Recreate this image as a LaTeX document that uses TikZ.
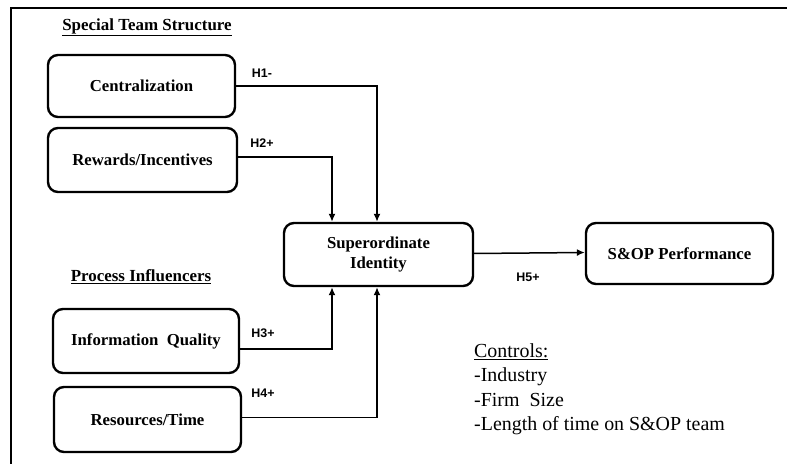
\documentclass[tikz,border=0pt]{standalone}
\usepackage{fontspec}
\setmainfont{Liberation Serif}
\newfontfamily\hsans{Liberation Sans}
\usetikzlibrary{arrows.meta}
\tikzset{
  construct/.style={draw, line width=2.4bp, rounded corners=10bp, align=center,
    font=\fontsize{16.8}{21}\selectfont\bfseries, inner sep=0pt},
  link/.style={line width=1.5bp, -{Latex[length=8bp,width=7bp]}},
  hyp/.style={font=\hsans\bfseries\fontsize{12.5}{14}\selectfont, inner sep=0pt},
  heading/.style={font=\fontsize{17}{20}\selectfont\bfseries, inner sep=0pt},
  ctrl/.style={font=\fontsize{20}{24}\selectfont, anchor=base west, inner sep=0pt},
}
\begin{document}
\begin{tikzpicture}[x=1bp, y=-1bp]
\useasboundingbox (0,0) rectangle (787,464);
% frame
\draw[line width=2bp] (11,464) -- (11,8) -- (787,8);

% group headings
\node[heading] (hstruct) at (147,27) {\underline{Special Team Structure}};
\node[heading] (hproc) at (141,277) {\underline{Process Influencers}};

% constructs
\node[construct, minimum width=187bp, minimum height=62bp] (cent) at (141.5,86) {Centralization};
\node[construct, minimum width=189bp, minimum height=64bp] (rew) at (142.5,160) {Rewards/Incentives};
\node[construct, minimum width=186bp, minimum height=64bp] (info) at (146,341) {Information\ \ Quality};
\node[construct, minimum width=187bp, minimum height=65bp] (res) at (147.5,419.5) {Resources/Time};
\node[construct, minimum width=189bp, minimum height=63bp] (sup) at (378.5,254.5) {Superordinate\\Identity};
\node[construct, minimum width=187bp, minimum height=61bp] (sop) at (679.5,253.5) {S\&OP Performance};

% columns where the paths enter the central construct
\coordinate (colA) at (332,0);
\coordinate (colB) at (377,0);

% hypothesised paths
\draw[link] (cent.east) -| (sup.north -| colB);
\draw[link] ([yshift=3bp]rew.east) -| (sup.north -| colA);
\draw[link] ([yshift=-8bp]info.east) -| (sup.south -| colA);
\draw[link] ([yshift=2bp]res.east) -| (sup.south -| colB);
\draw[link] ([yshift=1bp]sup.east) -- ([yshift=1bp]sop.west);

% path labels
\node[hyp] (h1) at (262,73) {H1-};
\node[hyp] (h2) at (262,143) {H2+};
\node[hyp] (h3) at (263,333) {H3+};
\node[hyp] (h4) at (263,393) {H4+};
\node[hyp] (h5) at (528,277) {H5+};

% control variables
\node[ctrl] (c0) at (474,358) {\underline{Controls:}};
\node[ctrl] (c1) at (474,382) {-Industry};
\node[ctrl] (c2) at (474,406) {-Firm\ \ Size};
\node[ctrl] (c3) at (474,430) {-Length\ of time on S\&OP team};
\end{tikzpicture}
\end{document}
